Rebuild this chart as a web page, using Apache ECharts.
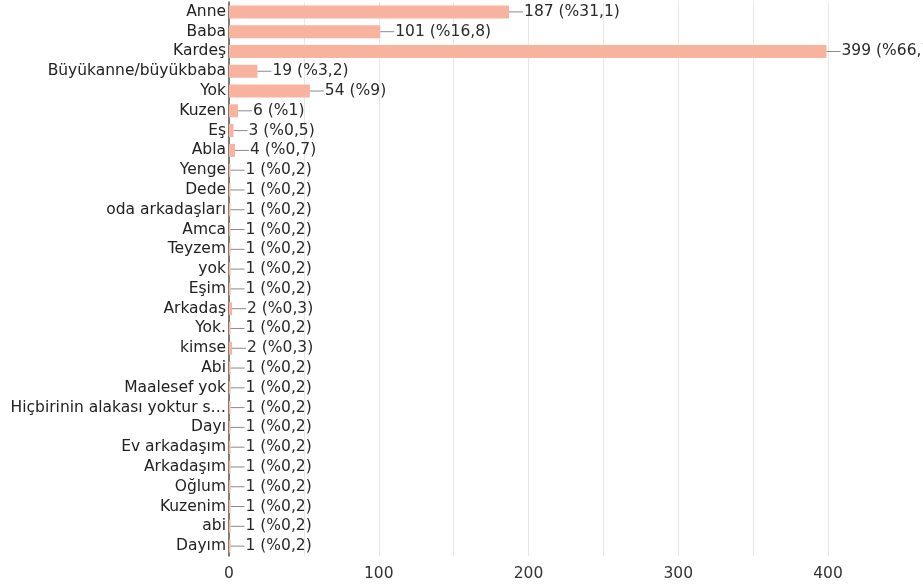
<!DOCTYPE html>
<html lang="tr">
<head>
    <meta charset="UTF-8">
    <title>Yanıtlar</title>
    <script src="https://cdn.jsdelivr.net/npm/echarts@6/dist/echarts.min.js"></script>
    <style>
        html, body { margin: 0; padding: 0; background: #fff; }
        #container { width: 923px; height: 588px; }
    </style>
</head>
<body>
<div id="container"></div>
<script type="text/javascript">
    // kategoriler ve değerler
    var categories = ['Anne', 'Baba', 'Kardeş', 'Büyükanne/büyükbaba', 'Yok', 'Kuzen', 'Eş', 'Abla',
        'Yenge', 'Dede', 'oda arkadaşları', 'Amca', 'Teyzem', 'yok', 'Eşim', 'Arkadaş', 'Yok.',
        'kimse', 'Abi', 'Maalesef yok', 'Hiçbirinin alakası yoktur s…', 'Dayı', 'Ev arkadaşım',
        'Arkadaşım', 'Oğlum', 'Kuzenim', 'abi', 'Dayım'];
    var counts = [187, 101, 399, 19, 54, 6, 3, 4, 1, 1, 1, 1, 1, 1, 1, 2, 1, 2, 1, 1, 1, 1, 1, 1, 1, 1, 1, 1];
    var percents = ['31,1', '16,8', '66,7', '3,2', '9', '1', '0,5', '0,7', '0,2', '0,2', '0,2', '0,2',
        '0,2', '0,2', '0,2', '0,3', '0,2', '0,3', '0,2', '0,2', '0,2', '0,2', '0,2', '0,2', '0,2',
        '0,2', '0,2', '0,2'];
    var xTicks = [0, 100, 200, 300, 400];

    var myChart = echarts.init(document.getElementById('container'));
    var font = '"DejaVu Sans", sans-serif';

    var option = {
        animation: false,
        grid: { left: 229, right: 95, top: 2, bottom: 32, containLabel: false },
        xAxis: {
            type: 'value',
            min: 0,
            max: 400,
            interval: 50,
            axisLine: { show: false },
            axisTick: { show: false },
            splitLine: { lineStyle: { color: '#e8e8e8', width: 1 } },
            axisLabel: {
                margin: 10,
                color: '#333',
                fontSize: 15.5,
                fontFamily: font,
                formatter: function (v) { return xTicks.indexOf(v) >= 0 ? String(v) : ''; }
            }
        },
        yAxis: {
            type: 'category',
            inverse: true,
            data: categories,
            axisLine: { lineStyle: { color: '#5a5050', width: 1.5 } },
            axisTick: { show: false },
            axisLabel: {
                margin: 3,
                color: '#222',
                fontSize: 15.5,
                fontFamily: font,
                interval: 0
            }
        },
        series: [{
            type: 'bar',
            data: counts,
            barWidth: 13,
            itemStyle: { color: '#f8b39e' },
            label: {
                show: true,
                position: 'right',
                distance: 0,
                formatter: function (p) {
                    return '{ln|}{t|' + p.value + ' (%' + percents[p.dataIndex] + ')}';
                },
                rich: {
                    ln: { width: 14, height: 1, backgroundColor: '#8a8a8a' },
                    t: { color: '#2a2a2a', fontSize: 15.5, fontFamily: font, padding: [0, 0, 0, 1] }
                }
            }
        }]
    };
    myChart.setOption(option);
</script>
</body>
</html>
